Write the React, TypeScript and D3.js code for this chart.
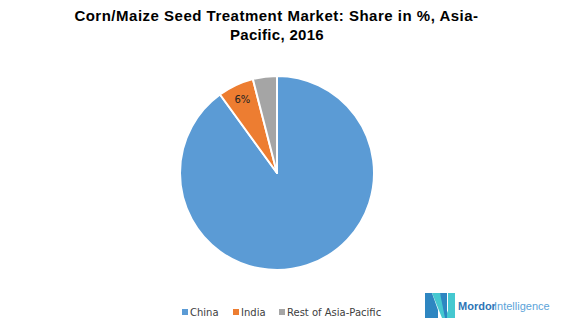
import React from "react";
import * as d3 from "d3";

const categories = ["China", "India", "Rest of Asia-Pacific"];
const shares = [90, 6, 4];
const labels = ["", "6%", ""];
const colors = ["#5B9BD5", "#ED7D31", "#A5A5A5"];

export default function App() {
  const W = 563, H = 328;
  const cx = 277, cy = 173, r = 97;
  const pie = d3.pie<number>().sort(null).value((d) => d)(shares);
  const arc = d3.arc<d3.PieArcDatum<number>>().innerRadius(0).outerRadius(r);
  const labelArc = d3.arc<d3.PieArcDatum<number>>().innerRadius(r * 0.84).outerRadius(r * 0.84);
  const legendX = [182, 233, 279];
  return (
    <svg width={W} height={H} style={{ position: "absolute", left: 0, top: 0, fontFamily: "Liberation Sans, Arial, sans-serif" }}>
      <rect width={W} height={H} fill="#fff" />
      <text x={276.5} y={20.5} textAnchor="middle" fontSize={15} fontWeight="bold" fill="#000" letterSpacing={0.5}>
        Corn/Maize Seed Treatment Market: Share in %, Asia-
      </text>
      <text x={277} y={40} textAnchor="middle" fontSize={15} fontWeight="bold" fill="#000" letterSpacing={0.3}>
        Pacific, 2016
      </text>
      <g transform={`translate(${cx},${cy})`}>
        {pie.map((p, i) => (
          <path key={i} d={arc(p) || ""} fill={colors[i]} stroke="#fff" strokeWidth={2} strokeLinejoin="round" />
        ))}
        {pie.map((p, i) => {
          if (!labels[i]) return null;
          const [lx, ly] = labelArc.centroid(p);
          return (
            <text key={i} x={lx} y={ly} textAnchor="middle" dominantBaseline="central" fontSize={10} fill="#222" fontFamily="DejaVu Sans, sans-serif">
              {labels[i]}
            </text>
          );
        })}
      </g>
      {categories.map((c, i) => (
        <g key={c}>
          <rect x={legendX[i]} y={309} width={6} height={6} fill={colors[i]} />
          <text x={legendX[i] + 8} y={315.5} fontSize={10} fill="#404040" fontFamily="DejaVu Sans, sans-serif">{c}</text>
        </g>
      ))}
      <g>
        <polygon points="425,293 432,293 438,310 438,318 425,318" fill="#2E86C1" />
        <polygon points="432,293 440,293 450,318 442,318" fill="#45C8D0" />
        <polygon points="440,293 447,293 447,318 445,318" fill="#2E86C1" />
        <polygon points="448,293 455,293 455,318 448,318" fill="#45C8D0" />
        <text x={458} y={310} fontSize={11} fill="#2E75B6" fontWeight="bold" fontFamily="Liberation Sans Narrow, Liberation Sans, sans-serif">Mordor</text>
        <text x={494} y={310} fontSize={11} fill="#5BA3D9" fontFamily="Liberation Sans Narrow, Liberation Sans, sans-serif">Intelligence</text>
      </g>
    </svg>
  );
}
